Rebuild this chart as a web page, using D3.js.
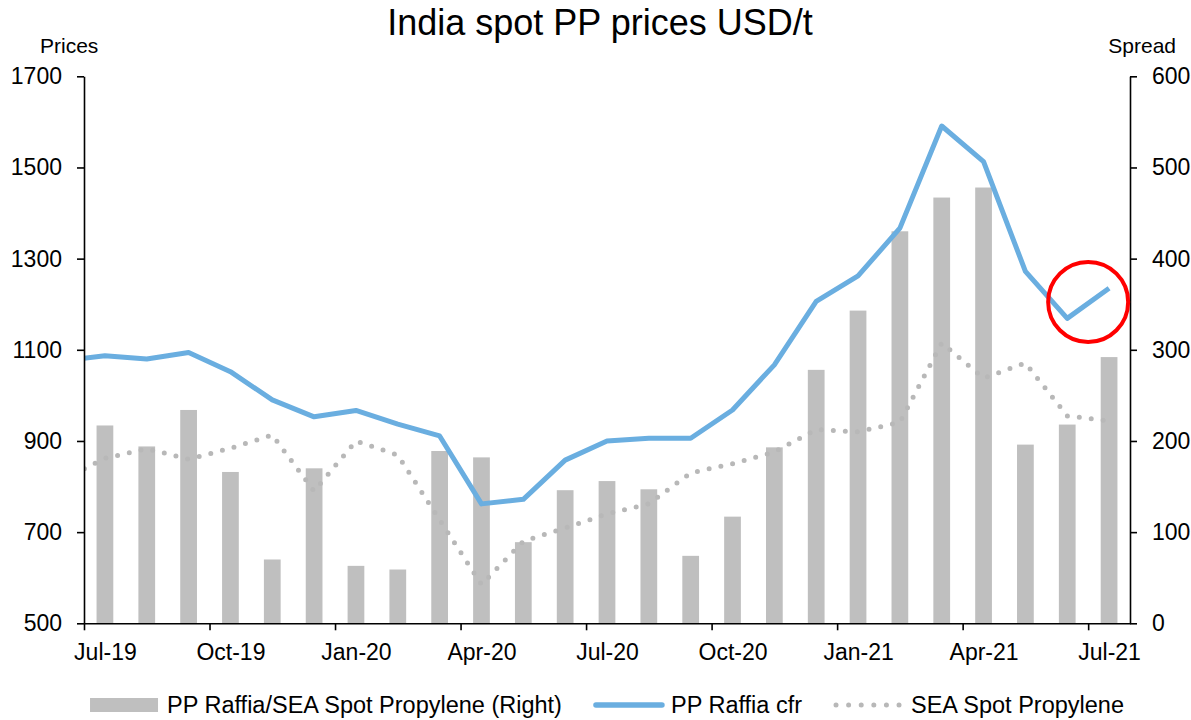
<!DOCTYPE html>
<html>
<head>
<meta charset="utf-8">
<script src="https://cdn.jsdelivr.net/npm/d3@7/dist/d3.min.js"></script>
<style>
  html, body { margin: 0; padding: 0; background: #fff; }
  svg { display: block; font-family: "Liberation Sans", Arial, sans-serif; }
</style>
</head>
<body>
<svg id="chart" width="1191" height="720"></svg>
<script>
// ---- Data ----
const months = ["Jul-19","Aug-19","Sep-19","Oct-19","Nov-19","Dec-19","Jan-20","Feb-20","Mar-20","Apr-20","May-20","Jun-20",
                "Jul-20","Aug-20","Sep-20","Oct-20","Nov-20","Dec-20","Jan-21","Feb-21","Mar-21","Apr-21","May-21","Jun-21","Jul-21"];
// spread bars (right axis)
const spread = [217, 194, 234, 166, 70, 170, 63, 59, 189, 182, 89, 146,
                156, 147, 74, 117, 193, 278, 343, 430, 467, 478, 196, 218, 292];
// PP Raffia cfr (left axis); first value is Jun-19 (before the axis start, clipped)
const raffiaPrev = 1076;
const raffia = [1087, 1080, 1094, 1052, 990, 953, 967, 937, 911, 762, 772, 858,
                900, 906, 906, 968, 1067, 1206, 1262, 1367, 1591, 1513, 1272, 1169, 1235];
// SEA Spot Propylene (left axis); first value is Jun-19 (clipped)
const propylenePrev = 815;
const propylene = [862, 883, 860, 884, 913, 790, 900, 869, 727, 585, 680, 709,
                   740, 762, 830, 850, 876, 925, 920, 941, 1115, 1038, 1071, 955, 944];
const leftTicks = [500, 700, 900, 1100, 1300, 1500, 1700];
const rightTicks = [0, 100, 200, 300, 400, 500, 600];
const labelEvery = 3;
const titleText = "India spot PP prices USD/t";
const legendLabels = ["PP Raffia/SEA Spot Propylene (Right)", "PP Raffia cfr", "SEA Spot Propylene"];
// highlight circle: at Jul-21 tick, price level
const highlight = { monthIndex: 24, price: 1205 };

// ---- Layout ----
const plot = { left: 84, right: 1130, top: 76.3, bottom: 623.3 };
const svg = d3.select("#chart");

const x = d3.scaleLinear().domain([0, months.length]).range([plot.left, plot.right]);
const yL = d3.scaleLinear().domain([500, 1700]).range([plot.bottom, plot.top]);
const yR = d3.scaleLinear().domain([0, 600]).range([plot.bottom, plot.top]);
const step = x(1) - x(0);

const barColor = "#bfbfbf";
const lineColor = "#6aaee0";
const dotColor = "#b8b8b8";

svg.append("defs").append("clipPath").attr("id", "plotclip")
  .append("rect").attr("x", plot.left).attr("y", plot.top - 20)
  .attr("width", plot.right - plot.left).attr("height", plot.bottom - plot.top + 20);

// Title
svg.append("text").attr("x", 600).attr("y", 35).attr("text-anchor", "middle")
  .attr("font-size", 36).attr("fill", "#000").text(titleText);
// Axis titles
svg.append("text").attr("x", 40).attr("y", 53).attr("font-size", 21).text("Prices");
svg.append("text").attr("x", 1176).attr("y", 53).attr("text-anchor", "end").attr("font-size", 21).text("Spread");

// Bars
const bw = step * 0.4;
svg.append("g").selectAll("rect").data(spread).join("rect")
  .attr("x", (d, i) => x(i + 0.5) - bw / 2)
  .attr("width", bw)
  .attr("y", d => yR(d))
  .attr("height", d => yR(0) - yR(d))
  .attr("fill", barColor);

const g = svg.append("g").attr("clip-path", "url(#plotclip)");

// Propylene dotted line
const propPts = [[-0.5, propylenePrev]].concat(propylene.map((v, i) => [i + 0.5, v]));
g.append("path").datum(propPts)
  .attr("d", d3.line().x(d => x(d[0])).y(d => yL(d[1])))
  .attr("fill", "none").attr("stroke", dotColor).attr("stroke-width", 5)
  .attr("stroke-linecap", "round").attr("stroke-dasharray", "0 12");

// Raffia solid line
const rafPts = [[-0.5, raffiaPrev]].concat(raffia.map((v, i) => [i + 0.5, v]));
g.append("path").datum(rafPts)
  .attr("d", d3.line().x(d => x(d[0])).y(d => yL(d[1])))
  .attr("fill", "none").attr("stroke", lineColor).attr("stroke-width", 5)
  .attr("stroke-linejoin", "round");

// Axes
const tickFont = 23;
const fmt = d3.format("d");
const axL = svg.append("g").attr("transform", `translate(${plot.left},0)`)
  .call(d3.axisLeft(yL).tickValues(leftTicks).tickFormat(fmt).tickSize(7).tickPadding(15).tickSizeOuter(0));
const axR = svg.append("g").attr("transform", `translate(${plot.right},0)`)
  .call(d3.axisRight(yR).tickValues(rightTicks).tickFormat(fmt).tickSize(7).tickPadding(15).tickSizeOuter(0));
const tickIdx = d3.range(0, months.length, labelEvery);
const axB = svg.append("g").attr("transform", `translate(0,${plot.bottom})`)
  .call(d3.axisBottom(x).tickValues(tickIdx).tickSize(7).tickFormat("").tickSizeOuter(0));
const axBL = svg.append("g").attr("transform", `translate(0,${plot.bottom})`)
  .call(d3.axisBottom(x).tickValues(tickIdx.map(i => i + 0.5)).tickSize(0).tickPadding(20)
        .tickFormat(v => months[Math.round(v - 0.5)]));
axBL.select(".domain").remove();

[axL, axR, axB, axBL].forEach(a => {
  a.selectAll("text").attr("font-size", tickFont).attr("fill", "#000")
    .attr("font-family", "'Liberation Sans', Arial, sans-serif");
  a.selectAll("line").attr("stroke", "#000").attr("stroke-width", 1.6);
  a.select(".domain").attr("stroke", "#000").attr("stroke-width", 1.6);
});
axBL.selectAll("text").attr("dy", "0.71em");

// Highlight circle
svg.append("circle")
  .attr("cx", x(highlight.monthIndex)).attr("cy", yL(highlight.price)).attr("r", 40)
  .attr("fill", "none").attr("stroke", "#ff0000").attr("stroke-width", 4);

// Legend
const legY = 705;
const legFont = 23.5;
const sw = 70, gapText = 7, gapItem = 32;
const leg = svg.append("g");
const items = legendLabels.map((t, i) => {
  const gi = leg.append("g");
  const txt = gi.append("text").attr("font-size", legFont).attr("y", legY + 8).text(t);
  return { gi, txt, w: txt.node().getComputedTextLength(), type: i };
});
const total = items.reduce((s, it) => s + sw + gapText + it.w, 0) + gapItem * (items.length - 1);
let cx = (plot.left + plot.right) / 2 - total / 2;
items.forEach(it => {
  if (it.type === 0) {
    it.gi.append("rect").attr("x", cx).attr("y", legY - 7).attr("width", sw - 2).attr("height", 14).attr("fill", barColor);
  } else if (it.type === 1) {
    it.gi.append("line").attr("x1", cx + 2).attr("x2", cx + sw - 2).attr("y1", legY).attr("y2", legY)
      .attr("stroke", lineColor).attr("stroke-width", 5.5).attr("stroke-linecap", "round");
  } else {
    it.gi.append("line").attr("x1", cx + 2).attr("x2", cx + sw).attr("y1", legY).attr("y2", legY)
      .attr("stroke", dotColor).attr("stroke-width", 5).attr("stroke-linecap", "round")
      .attr("stroke-dasharray", "0 12.6");
  }
  it.txt.attr("x", cx + sw + gapText);
  cx += sw + gapText + it.w + gapItem;
});
</script>
</body>
</html>
